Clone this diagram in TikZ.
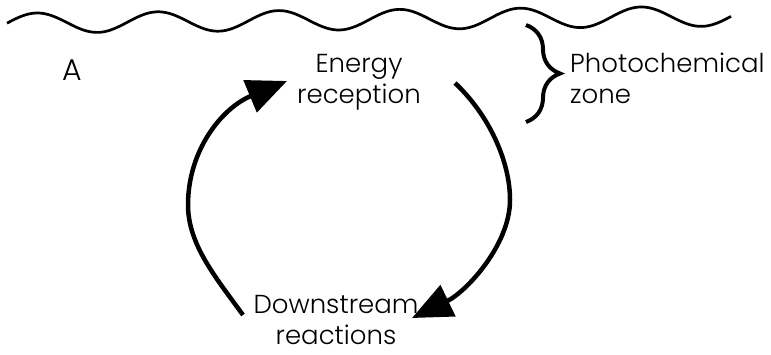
\documentclass[tikz,border=0pt]{standalone}
\usepackage{fontspec}
\setmainfont{Poppins}[UprightFont={* Light}]
\usetikzlibrary{arrows.meta,decorations.pathreplacing}
\tikzset{
  lbl/.style={inner sep=0pt, font=\fontsize{26}{31}\selectfont, align=center},
  arcline/.style={line width=4.5pt, -{Triangle[length=40pt,width=34pt]}},
  wave/.style={line width=2.7pt},
  zonebrace/.style={line width=4pt, decorate, decoration={brace, amplitude=34pt}}
}
\begin{document}
\begin{tikzpicture}[x=1pt,y=-1pt]
\path[fill=white,use as bounding box] (0,0) rectangle (771,354);
% water surface
\draw[wave] plot[domain=7:731, samples=300, smooth] (\x, {23-0.01*(\x-37)-10*cos((\x-37)*2.980)});
% labels
\node[lbl, font=\fontsize{30}{34}\selectfont] (A) at (72,70) {A};
\node[lbl] (er) at (359,82) {Energy\\reception};
\node[lbl] (dr) at (336,320) {Downstream\\reactions};
\node[lbl, anchor=west, align=left] (pz) at (570,78) {Photochemical\\zone};
% brace
\coordinate (bt) at (526,25);
\coordinate (bb) at (526,122);
\draw[zonebrace] (bt) -- (bb);
% cycle arrows
\coordinate (l0) at (243,315);
\coordinate (lm) at (188,205);
\coordinate (l1) at (287,81);
\coordinate (r0) at (455,83);
\coordinate (rm) at (510,200);
\coordinate (r1) at (412,318);
\draw[arcline] (l0) .. controls (217,279) and (188,245) .. (lm) .. controls (188,150) and (222,108) .. (l1);
\draw[arcline] (r0) .. controls (488,114) and (510,160) .. (rm) .. controls (510,245) and (466,292) .. (r1);
\end{tikzpicture}
\end{document}
